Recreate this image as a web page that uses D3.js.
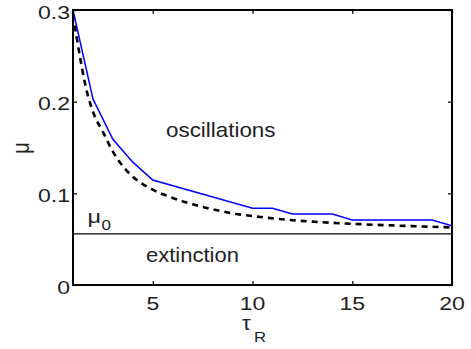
<!DOCTYPE html>
<html>
<head>
<meta charset="utf-8">
<script src="https://cdn.jsdelivr.net/npm/d3@7"></script>
<style>
  html, body { margin: 0; padding: 0; background: #fff; }
  svg { display: block; }
  text { font-family: "Liberation Sans", Arial, Helvetica, sans-serif; fill: #222; }
</style>
</head>
<body>
<svg id="chart" width="471" height="349"></svg>
<script>
// ---- data ----
const xTicks = [5, 10, 15, 20];
const yTicks = [0, 0.1, 0.2, 0.3];
const yTickLabels = ["0", "0.1", "0.2", "0.3"];

// numerically computed boundary (blue, piecewise)
const blueTau = [1, 2, 3, 4, 5, 10, 11, 12, 14, 15, 19, 20];
const blueMu  = [0.300, 0.203, 0.159, 0.1340, 0.1145, 0.0837, 0.0837, 0.0775, 0.0775, 0.0709, 0.0709, 0.0646];

// analytical approximation (black dashed)
const dashTau = [1, 1.35, 1.6, 2, 2.5, 3, 3.6, 4.2, 5, 6, 7, 8, 9, 10, 11, 12, 13, 14, 15, 16, 17, 18, 19, 20];
const dashMu  = [0.295, 0.249, 0.220, 0.189, 0.167, 0.1455, 0.127, 0.1145, 0.1040, 0.0950, 0.0880, 0.0825, 0.0782, 0.0752, 0.0727, 0.0707, 0.0691, 0.0678, 0.0668, 0.0658, 0.0650, 0.0642, 0.0635, 0.0628];

const mu0 = 0.0557;

// ---- layout ----
const L = 73, R = 452, T = 10, B = 285;
const svg = d3.select("#chart");
const x = d3.scaleLinear().domain([1, 20]).range([L, R]);
const y = d3.scaleLinear().domain([0, 0.3]).range([B, T]);

svg.append("defs").append("clipPath").attr("id", "clip")
  .append("rect").attr("x", L).attr("y", T).attr("width", R - L).attr("height", B - T);

const plot = svg.append("g").attr("clip-path", "url(#clip)");

// mu0 line
plot.append("line")
  .attr("x1", x(1)).attr("x2", x(20))
  .attr("y1", y(mu0)).attr("y2", y(mu0))
  .attr("stroke", "#000").attr("stroke-width", 1.3);

// dashed curve
const dashData = dashTau.map((t, i) => [t, dashMu[i]]);
plot.append("path")
  .datum(dashData)
  .attr("fill", "none")
  .attr("stroke", "#000")
  .attr("stroke-width", 2.6)
  .attr("stroke-dasharray", "6,5")
  .attr("d", d3.line().x(d => x(d[0])).y(d => y(d[1])).curve(d3.curveMonotoneX));

// blue line
const blueData = blueTau.map((t, i) => [t, blueMu[i]]);
plot.append("path")
  .datum(blueData)
  .attr("fill", "none")
  .attr("stroke", "#0000ff")
  .attr("stroke-width", 1.5)
  .attr("d", d3.line().x(d => x(d[0])).y(d => y(d[1])));

// axes (ticks inside, mirrored)
const tk = 4;
const axB = svg.append("g").attr("transform", `translate(0,${B})`)
  .call(d3.axisBottom(x).tickValues(xTicks).tickSize(-tk).tickFormat(""));
const axT = svg.append("g").attr("transform", `translate(0,${T})`)
  .call(d3.axisTop(x).tickValues(xTicks).tickSize(-tk).tickFormat(""));
const axL = svg.append("g").attr("transform", `translate(${L},0)`)
  .call(d3.axisLeft(y).tickValues(yTicks).tickSize(-tk).tickFormat(""));
const axR = svg.append("g").attr("transform", `translate(${R},0)`)
  .call(d3.axisRight(y).tickValues(yTicks).tickSize(-tk).tickFormat(""));
[axB, axT, axL, axR].forEach(a => {
  a.select(".domain").remove();
  a.selectAll(".tick line").attr("stroke", "#000").attr("stroke-width", 1.2);
});

// frame
svg.append("rect")
  .attr("x", L).attr("y", T).attr("width", R - L).attr("height", B - T)
  .attr("fill", "none").attr("stroke", "#000").attr("stroke-width", 2);

// text helper with horizontal stretch
function label(px, py, str, size, sx, anchor) {
  return svg.append("text")
    .attr("transform", `translate(${px},${py}) scale(${sx},1)`)
    .attr("text-anchor", anchor)
    .style("font-size", size + "px")
    .text(str);
}

// tick labels
xTicks.forEach(t => label(x(t), 309.5, String(t), 18, 1.28, "middle"));
yTicks.forEach((t, i) => label(70, y(t) + 8.6, yTickLabels[i], 18, 1.28, "end"));

// region labels
label(166, 137.3, "oscillations", 20, 1.12, "start");
label(146, 262, "extinction", 20, 1.10, "start");

// mu0 label
label(87.5, 222.5, "\u03BC", 18, 1.3, "start");
label(101.5, 230, "0", 14, 1.22, "start");

// x label tau_R
label(242, 330, "\u03C4", 20, 1.1, "start");
label(254, 341.7, "R", 14, 1.2, "start");

// y label mu (rotated)
svg.append("text")
  .attr("transform", "translate(29,148) rotate(-90) scale(1,1.2)")
  .attr("text-anchor", "middle")
  .style("font-size", "20px")
  .text("\u03BC");
</script>
</body>
</html>
